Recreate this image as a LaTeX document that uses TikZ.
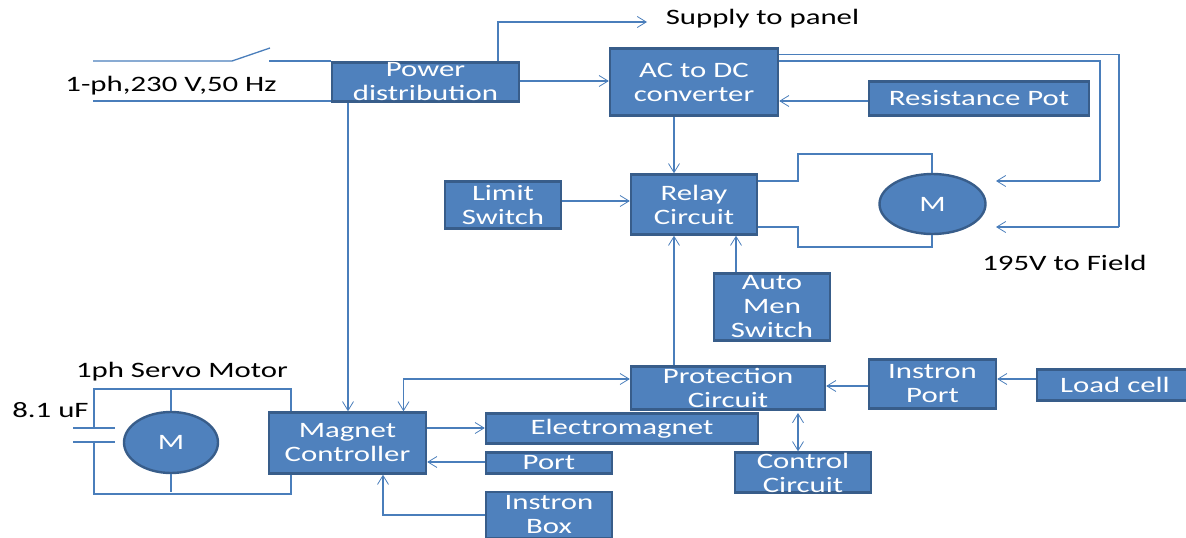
\documentclass[tikz,border=0pt]{standalone}
\usepackage{fontspec}
\setmainfont[FakeStretch=1.4]{Carlito}
\usetikzlibrary{arrows.meta,shapes.geometric}
\definecolor{fillb}{HTML}{4F81BD}
\definecolor{edgeb}{HTML}{385D8A}
\definecolor{wire}{HTML}{4A7EBB}
\tikzset{
  blk/.style={draw=edgeb,fill=fillb,line width=2.4pt,inner sep=0pt,text=white,align=center,
    font=\fontsize{22}{24}\selectfont},
  motor/.style={ellipse,blk},
  lbl/.style={text=black,inner sep=0pt,font=\fontsize{22}{24}\selectfont},
  con/.style={draw=wire,line width=1.3pt},
  conb/.style={draw=wire,line width=1.9pt},
  arr/.style={con,-{Straight Barb[length=9pt,width=11pt,line width=.8pt]}},
  darr/.style={con,{Straight Barb[length=9pt,width=11pt,line width=.8pt]}-{Straight Barb[length=9pt,width=11pt,line width=.8pt]}}
}
\begin{document}
\begin{tikzpicture}[x=1pt,y=-1pt]
\useasboundingbox (0,0) rectangle (1186,538);
\clip (0,0) rectangle (1186,538);
% free ends
\coordinate (linetop) at (93,61);
\coordinate (swhinge) at (232,61);
\coordinate (swtip) at (270,48);
\coordinate (swfix) at (269,61);
\coordinate (linebot) at (93,101);
\coordinate (panel) at (647,22);
\coordinate (fieldA) at (996,181);
\coordinate (fieldB) at (996,227);
% boxes
\node[blk,minimum width=187,minimum height=39] (power) at (425.5,82) {Power\\distribution};
\node[blk,minimum width=168,minimum height=67] (ac) at (694,82) {AC to DC\\converter};
\node[blk,minimum width=220,minimum height=34] (pot) at (979,98.5) {Resistance Pot};
\node[blk,minimum width=126,minimum height=60] (relay) at (694,204.5) {Relay\\Circuit};
\node[motor,minimum width=106,minimum height=60] (m1) at (932.5,204) {M};
\node[blk,minimum width=116,minimum height=47] (limit) at (503,205) {Limit\\Switch};
\node[blk,minimum width=116,minimum height=67] (auto) at (772,307) {Auto\\Men\\Switch};
\node[blk,minimum width=194,minimum height=43] (prot) at (728,388) {Protection\\Circuit};
\node[blk,minimum width=127,minimum height=49] (iport) at (932.5,384) {Instron\\Port};
\node[blk,minimum width=156,minimum height=31] (load) at (1115,385) {Load cell};
\node[blk,minimum width=272,minimum height=30] (em) at (622,428.5) {Electromagnet};
\node[blk,minimum width=126,minimum height=21] (port) at (549,463) {Port};
\node[blk,minimum width=126,minimum height=46] (ibox) at (549,515) {Instron\\Box};
\node[blk,minimum width=136,minimum height=40] (ctrl) at (803,472.5) {Control\\Circuit};
\node[blk,minimum width=157,minimum height=61] (mag) at (347.5,443) {Magnet\\Controller};
\node[motor,minimum width=94,minimum height=61] (m2) at (171,442.5) {M};
% capacitor plates
\coordinate (capAl) at (73,428); \coordinate (capAr) at (115,428);
\coordinate (capBl) at (73,442); \coordinate (capBr) at (115,442);
\coordinate (capA) at (94,428); \coordinate (capB) at (94,442);
% labels
\node[lbl] (tpanel) at (762.5,19) {Supply to panel};
\node[lbl] (tline) at (171,85.5) {1-ph,230 V,50 Hz};
\node[lbl] (tfield) at (1064.5,263) {195V to Field};
\node[lbl] (tservo) at (182,371.5) {1ph Servo Motor};
\node[lbl] (tcap) at (50.5,410) {8.1 uF};
% supply
\draw[con] (linetop) -- (swhinge) -- (swtip);
\draw[con] (swfix) -- (power.west |- swfix);
\draw[conb] (linebot) -- (power.west |- linebot);
\draw[arr] (power.north -| 498,0) -- (498,22) -- (panel);
\draw[arr] (power.east |- 0,81) -- (ac.west |- 0,81);
\draw[arr] (power.south -| 348,0) -- (mag.north -| 348,0);
% field wires
\draw[conb] (ac.east |- 0,54.5) -- (1119,54.5) -- (1119,227);
\draw[arr] (1119,227) -- (fieldB);
\draw[con] (ac.east |- 0,61) -- (1100,61) -- (1100,181);
\draw[arr] (1100,181) -- (fieldA);
\draw[arr] (pot.west |- 0,101) -- (ac.east |- 0,101);
\draw[arr] (ac.south -| 674,0) -- (relay.north -| 674,0);
% relay to motor
\draw[conb] (relay.east |- 0,181) -- (798,181) -- (798,154) -- (932,154) -- (m1.north -| 932,0);
\draw[conb] (relay.east |- 0,227) -- (798,227) -- (798,247) -- (932,247) -- (m1.south -| 932,0);
\draw[arr] (limit.east |- 0,201) -- (relay.west |- 0,201);
\draw[arr] (prot.north -| 674,0) -- (relay.south -| 674,0);
\draw[arr] (auto.north -| 736,0) -- (relay.south -| 736,0);
% lower right
\draw[arr] (iport.west |- 0,386) -- (prot.east |- 0,386);
\draw[arr] (load.west |- 0,379) -- (iport.east |- 0,379);
\draw[darr] (ctrl.north -| 798,0) -- (798,413);
\draw[darr] (prot.west |- 0,379) -- (403.5,379) -- (mag.north -| 403.5,0);
% magnet controller
\draw[arr] (mag.east |- 0,428) -- (em.west |- 0,428);
\draw[arr] (port.west |- 0,462) -- (mag.east |- 0,462);
\draw[arr] (ibox.west |- 0,515) -- (383,515) -- (mag.south -| 383,0);
% servo motor
\draw[conb] (mag.north -| 291,0) -- (291,389) -- (94,389) -- (capA);
\draw[conb] (171,389) -- (m2.north);
\draw[conb] (mag.south -| 291,0) -- (291,494) -- (94,494) -- (capB);
\draw[conb] (m2.south) -- (171,492);
\draw[conb] (capAl) -- (capAr);
\draw[con] (capBl) -- (capBr);
\end{tikzpicture}
\end{document}
